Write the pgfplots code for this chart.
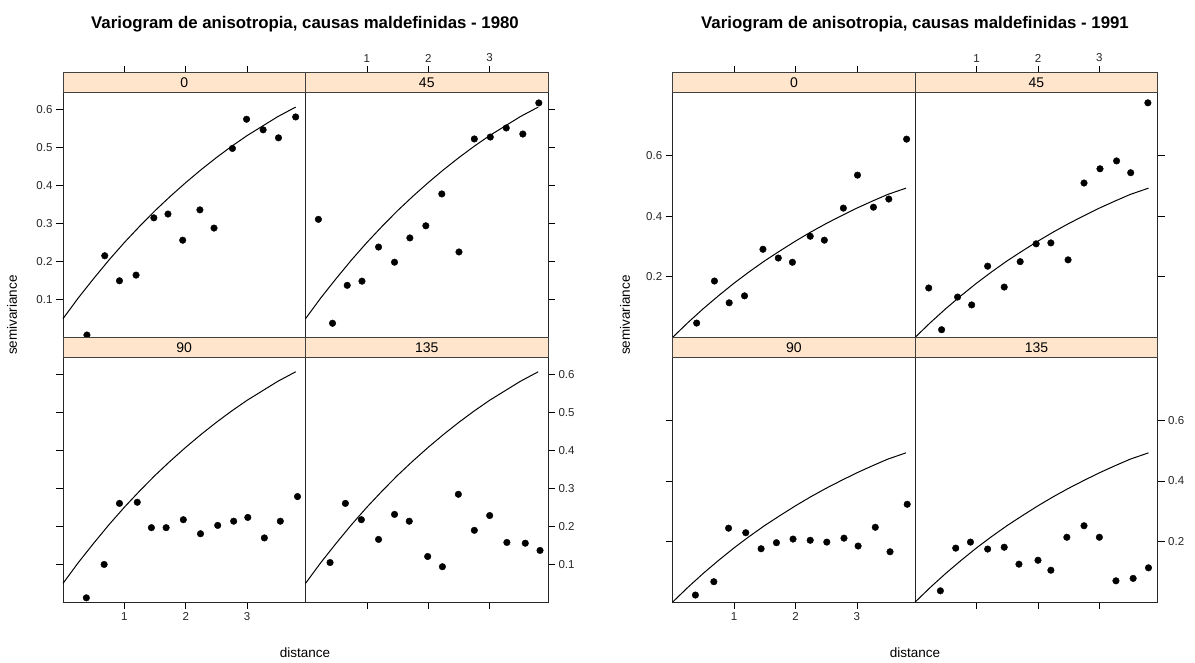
\documentclass[border=0pt]{standalone}
\usepackage{fontspec}
\setmainfont{Liberation Sans}
\usepackage{pgfplots}
\pgfplotsset{compat=1.18}
\definecolor{strip}{HTML}{FFE5CC}

% fitted model lines
\def\fitA{(0,0.049) (0.25,0.104) (0.5,0.155) (0.75,0.204) (1,0.250) (1.25,0.293) (1.5,0.334) (1.75,0.372) (2,0.408) (2.25,0.442) (2.5,0.474) (2.75,0.504) (3,0.532) (3.25,0.557) (3.5,0.582) (3.79,0.607)}
\def\fitB{(0,0) (0.25,0.049) (0.5,0.095) (0.75,0.138) (1,0.179) (1.25,0.217) (1.5,0.253) (1.75,0.286) (2,0.318) (2.25,0.348) (2.5,0.376) (2.75,0.402) (3,0.427) (3.25,0.450) (3.5,0.472) (3.8,0.493)}

\pgfplotsset{
  panel/.style={scale only axis, width=242.5pt, height=264.7pt, anchor=south west,
    xmin=0, xmax=3.95, ymin=0, xtick={1,2,3},
    axis line style={line width=0.7pt, black!85},
    tick align=outside, major tick length=7pt,
    tick style={line width=0.7pt, black},
    /pgf/number format/assume math mode=true,
    tick label style={font=\fontsize{11.5}{12}\selectfont, black!85},
    yticklabel style={/pgf/number format/fixed, /pgf/number format/precision=1},
    clip=false},
  yrA/.style={ymax=0.698, ytick={0.1,0.2,0.3,0.4,0.5,0.6}},
  yrB/.style={ymax=0.875, ytick={0.2,0.4,0.6}},
  tl/.style={xtick pos=upper, xticklabel pos=upper, xticklabels={,,}, ytick pos=left, yticklabel pos=left},
  tr/.style={xtick pos=upper, xticklabel pos=upper, ytick pos=right, yticklabel pos=right, yticklabels={,,,,,}},
  bl/.style={xtick pos=lower, xticklabel pos=lower, ytick pos=left, yticklabel pos=left, yticklabels={,,,,,}},
  br/.style={xtick pos=lower, xticklabel pos=lower, xticklabels={,,}, ytick pos=right, yticklabel pos=right},
  pts/.style={only marks, mark=*, mark size=3.3pt, black},
  fit/.style={no marks, black, line width=1pt},
}

\begin{document}
\begin{tikzpicture}
\path[use as bounding box] (0pt,0pt) rectangle (1195pt,663pt);

% ---------------- 1980 ----------------
\begin{axis}[panel, yrA, tl, at={(63pt,325.7pt)}]
\addplot[pts] coordinates {(0.39,0.006) (0.68,0.215) (0.92,0.149) (1.19,0.164) (1.48,0.315) (1.71,0.325) (1.95,0.256) (2.23,0.336) (2.46,0.288) (2.76,0.498) (2.99,0.575) (3.26,0.547) (3.51,0.526) (3.79,0.581)};
\addplot[fit] coordinates {\fitA};
\end{axis}
\begin{axis}[panel, yrA, tr, at={(305.5pt,325.7pt)}]
\addplot[pts] coordinates {(0.21,0.311) (0.44,0.037) (0.68,0.137) (0.92,0.148) (1.19,0.238) (1.45,0.198) (1.70,0.262) (1.96,0.294) (2.22,0.378) (2.50,0.225) (2.75,0.523) (3.01,0.528) (3.27,0.552) (3.54,0.536) (3.80,0.618)};
\addplot[fit] coordinates {\fitA};
\end{axis}
\begin{axis}[panel, yrA, bl, at={(63pt,61pt)}]
\addplot[pts] coordinates {(0.38,0.011) (0.67,0.099) (0.92,0.260) (1.21,0.263) (1.44,0.196) (1.68,0.196) (1.96,0.217) (2.24,0.180) (2.52,0.202) (2.78,0.213) (3.01,0.223) (3.28,0.169) (3.54,0.213) (3.82,0.278)};
\addplot[fit] coordinates {\fitA};
\end{axis}
\begin{axis}[panel, yrA, br, at={(305.5pt,61pt)}]
\addplot[pts] coordinates {(0.40,0.104) (0.65,0.260) (0.91,0.217) (1.19,0.165) (1.45,0.231) (1.69,0.213) (1.99,0.120) (2.23,0.093) (2.49,0.284) (2.75,0.189) (3.00,0.228) (3.28,0.157) (3.58,0.155) (3.82,0.136)};
\addplot[fit] coordinates {\fitA};
\end{axis}

% ---------------- 1991 ----------------
\begin{axis}[panel, yrB, tl, at={(672.7pt,325.7pt)}]
\addplot[pts] coordinates {(0.39,0.047) (0.68,0.186) (0.92,0.114) (1.17,0.137) (1.47,0.291) (1.72,0.262) (1.95,0.248) (2.24,0.334) (2.47,0.321) (2.78,0.427) (3.01,0.536) (3.27,0.430) (3.52,0.457) (3.81,0.655)};
\addplot[fit] coordinates {\fitB};
\end{axis}
\begin{axis}[panel, yrB, tr, yticklabels={,,}, at={(915.2pt,325.7pt)}]
\addplot[pts] coordinates {(0.22,0.163) (0.43,0.025) (0.69,0.133) (0.92,0.107) (1.18,0.235) (1.45,0.166) (1.71,0.250) (1.97,0.309) (2.21,0.312) (2.49,0.256) (2.75,0.510) (3.01,0.557) (3.28,0.583) (3.51,0.544) (3.79,0.775)};
\addplot[fit] coordinates {\fitB};
\end{axis}
\begin{axis}[panel, yrB, bl, yticklabels={,,}, at={(672.7pt,61pt)}]
\addplot[pts] coordinates {(0.37,0.023) (0.67,0.067) (0.91,0.244) (1.19,0.229) (1.44,0.176) (1.69,0.196) (1.96,0.208) (2.24,0.204) (2.51,0.198) (2.79,0.211) (3.02,0.185) (3.30,0.247) (3.54,0.166) (3.82,0.323)};
\addplot[fit] coordinates {\fitB};
\end{axis}
\begin{axis}[panel, yrB, br, at={(915.2pt,61pt)}]
\addplot[pts] coordinates {(0.41,0.037) (0.66,0.178) (0.90,0.198) (1.18,0.175) (1.45,0.181) (1.69,0.125) (2.00,0.138) (2.21,0.105) (2.47,0.214) (2.75,0.252) (3.00,0.214) (3.27,0.070) (3.55,0.078) (3.80,0.113)};
\addplot[fit] coordinates {\fitB};
\end{axis}

% strips
\foreach \x in {63,305.5,672.7,915.2}{
  \draw[fill=strip, draw=black!75, line width=0.7pt] (\x pt,570.7pt) rectangle ++(242.5pt,19.7pt);
  \draw[fill=strip, draw=black!75, line width=0.7pt] (\x pt,306pt) rectangle ++(242.5pt,19.7pt);
}
\foreach \x/\l in {63/0,305.5/45,672.7/0,915.2/45}
  \node[font=\fontsize{14}{15}\selectfont, inner sep=0pt] at (\x pt+121.25pt,580.5pt) {\l};
\foreach \x/\l in {63/90,305.5/135,672.7/90,915.2/135}
  \node[font=\fontsize{14}{15}\selectfont, inner sep=0pt] at (\x pt+121.25pt,315.8pt) {\l};

% titles and axis labels
\node[font=\fontsize{16.8}{18}\selectfont\bfseries] at (305pt,639pt) {Variogram de anisotropia, causas maldefinidas - 1980};
\node[font=\fontsize{16.8}{18}\selectfont\bfseries] at (915pt,639pt) {Variogram de anisotropia, causas maldefinidas - 1991};
\node[font=\fontsize{13.5}{14}\selectfont, rotate=90] at (12pt,348pt) {semivariance};
\node[font=\fontsize{13.5}{14}\selectfont, rotate=90] at (625pt,348pt) {semivariance};
\node[font=\fontsize{13.5}{14}\selectfont] at (305pt,10pt) {distance};
\node[font=\fontsize{13.5}{14}\selectfont] at (915pt,10pt) {distance};
\end{tikzpicture}
\end{document}
